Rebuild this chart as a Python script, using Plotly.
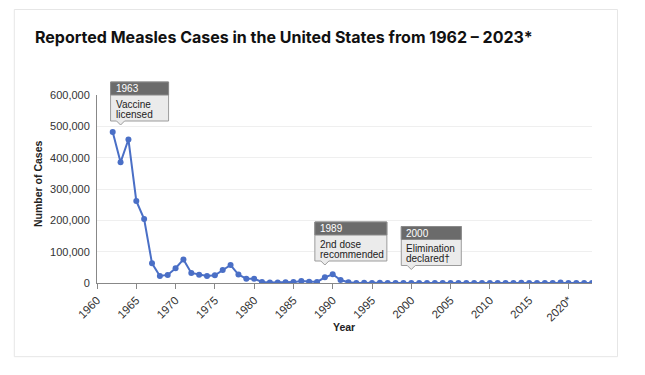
import plotly.graph_objects as go

years = list(range(1962, 2024))
cases = [481530, 385156, 458083, 261904, 204136, 62705, 22231, 25826, 47351, 75290,
         32275, 26690, 22094, 24374, 41126, 57345, 26871, 13597, 13506, 3124,
         1714, 1497, 2587, 2822, 6282, 3655, 3396, 18193, 27786, 9643,
         2237, 312, 963, 309, 508, 138, 100, 100, 86, 116,
         44, 56, 37, 66, 55, 43, 140, 71, 63, 220,
         55, 187, 667, 188, 86, 120, 375, 1274, 13, 49,
         121, 59]

tick_years = list(range(1960, 2021, 5))
tick_labels = [str(y) for y in tick_years[:-1]] + ["2020*"]
y_ticks = [0, 100000, 200000, 300000, 400000, 500000, 600000]

callout_years = [1963, 1989, 2000]
callout_headers = ["1963", "1989", "2000"]
callout_lines = [["Vaccine", "licensed"], ["2nd dose", "recommended"], ["Elimination", "declared†"]]
callout_widths = [58, 72, 60]
callout_tip_px = [125, 265, 269.5]   # vertical pixel position of pointer tip (page coords)

OFF = 8  # page body margin
W, H = 629, 359
L, T = 97 - OFF, 95 - OFF
R = W - (592 - OFF)
B = H - (283 - OFF)
PW, PH = W - L - R, H - T - B

def px_x(p):
    return (p - OFF - L) / PW

def px_y(p):
    return (H - B - (p - OFF)) / PH

fig = go.Figure()
fig.add_trace(go.Scatter(
    x=years, y=cases, mode="lines+markers",
    line=dict(color="#4a6fc6", width=2),
    marker=dict(color="#4a6fc6", size=6),
    hoverinfo="x+y", showlegend=False,
))

shapes = []
shapes.append(dict(type="rect", xref="paper", yref="paper",
                   x0=px_x(14.3), x1=px_x(617.5), y0=px_y(356.7), y1=px_y(9.5),
                   line=dict(color="#e6e6e6", width=1), fillcolor="rgba(0,0,0,0)", layer="below"))

annotations = []
for yr, tip, hdr, lines, w in zip(callout_years, callout_tip_px, callout_headers, callout_lines, callout_widths):
    ty = px_y(tip)
    left, right = -10, w - 10
    path = f"M {left},4 L -4,4 L 0,0 L 4,4 L {right},4 L {right},43 L {left},43 Z"
    shapes.append(dict(type="path", xref="x", yref="paper", xsizemode="pixel", ysizemode="pixel",
                       xanchor=yr, yanchor=ty, path=path,
                       fillcolor="#ebebeb", line=dict(color="#9c9c9c", width=1), layer="above"))
    shapes.append(dict(type="rect", xref="x", yref="paper", xsizemode="pixel", ysizemode="pixel",
                       xanchor=yr, yanchor=ty, x0=left, x1=right, y0=30, y1=43,
                       fillcolor="#6b6b6b", line=dict(color="#8a8a8a", width=1), layer="above"))
    annotations.append(dict(x=yr, y=ty, xref="x", yref="paper", text=hdr, showarrow=False,
                            xanchor="left", yanchor="middle", xshift=left + 3, yshift=36.5,
                            font=dict(family="Liberation Sans", size=10, color="white")))
    for i, ln in enumerate(lines):
        annotations.append(dict(x=yr, y=ty, xref="x", yref="paper", text=ln, showarrow=False,
                                xanchor="left", yanchor="middle", xshift=left + 3,
                                yshift=21 - 10.4 * i,
                                font=dict(family="Liberation Sans", size=10, color="#222")))

annotations.append(dict(xref="paper", yref="paper", x=px_x(33), y=px_y(36.5),
                        xanchor="left", yanchor="middle", showarrow=False,
                        text="<b>Reported Measles Cases in the United States from 1962 – 2023*</b>",
                        font=dict(family="Inter", size=16, color="#111")))
annotations.append(dict(xref="paper", yref="paper", x=px_x(38), y=px_y(184),
                        xanchor="center", yanchor="middle", showarrow=False, textangle=-90,
                        text="<b>Number of Cases</b>",
                        font=dict(family="Liberation Sans", size=10.5, color="#222")))
annotations.append(dict(xref="paper", yref="paper", x=px_x(344), y=px_y(327),
                        xanchor="center", yanchor="middle", showarrow=False,
                        text="<b>Year</b>",
                        font=dict(family="Liberation Sans", size=10.5, color="#222")))

fig.update_layout(
    width=W, height=H,
    margin=dict(l=L, r=R, t=T, b=B, pad=0),
    paper_bgcolor="white", plot_bgcolor="white",
    shapes=shapes, annotations=annotations,
    xaxis=dict(range=[1960, 2023], tickvals=tick_years, ticktext=tick_labels,
               tickangle=-45, showgrid=False, zeroline=False,
               showline=True, linecolor="#888", linewidth=1,
               ticks="outside", ticklen=5, tickcolor="#888",
               tickfont=dict(family="Liberation Sans", size=11.5, color="#333")),
    yaxis=dict(range=[0, 600000], tickvals=y_ticks, tickformat=",",
               showgrid=True, gridcolor="#efefef", zeroline=False,
               showline=True, linecolor="#888", linewidth=1,
               ticks="", ticklabelstandoff=4,
               tickfont=dict(family="Liberation Sans", size=11, color="#333")),
)

fig.write_html("out.html")
